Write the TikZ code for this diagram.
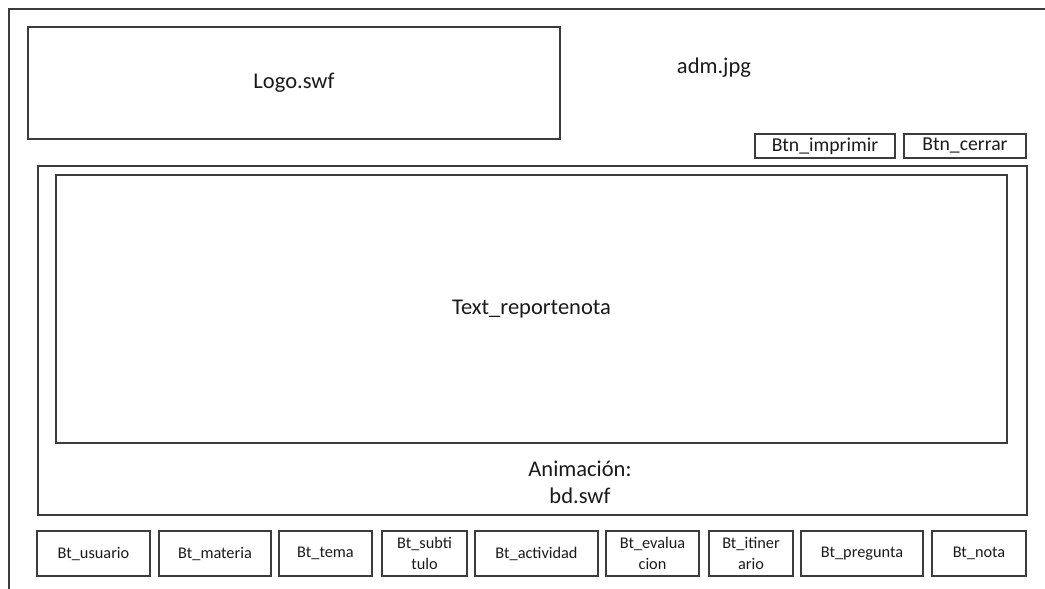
\documentclass[tikz,border=0pt]{standalone}
\usepackage{fontspec}
\setmainfont{Carlito}
\usepackage{xcolor,tikz}
\usetikzlibrary{positioning}
\definecolor{WireLine}{HTML}{3C3C3C}
\definecolor{WireText}{HTML}{1A1A1A}
\tikzset{x=1pt,y=-1pt,every node/.style={text=WireText,inner sep=0pt},
 area/.style={draw=WireLine,line width=1.2pt,rectangle},
 bigtxt/.style={font=\fontsize{22.5}{27}\selectfont,align=center},
 topbtn/.style={area,font=\fontsize{19.7}{23}\selectfont,minimum height=24pt},
 botbtn/.style={area,font=\fontsize{16.3}{21}\selectfont,align=center,
 minimum height=45pt}}

\begin{document}
\begin{tikzpicture}
\useasboundingbox (0,0) rectangle (1045,589);
\draw[WireLine,line width=1.2pt] (1045,9)--(9,9)--(9,589);
\node[area,bigtxt,minimum width=532pt,minimum height=112pt] (logo) at (294,83) {Logo.swf};
\node[bigtxt] (adm) at (714,68) {adm.jpg};
\node[topbtn,minimum width=140pt] (imprimir) at (825,146) {Btn\_imprimir};
\node[topbtn,minimum width=122pt] (cerrar) at (965,146) {Btn\_cerrar};
\node[area,minimum width=989pt,minimum height=349pt] (anim) at (532.5,340.5) {};
\node[area,bigtxt,minimum width=951pt,minimum height=268pt] (report) at (531.5,309) {Text\_reportenota};
\node[bigtxt] (animtxt) at (580,482) {Animación:\\bd.swf};
% botones inferiores
\node[botbtn,minimum width=113pt] (usuario) at (93.5,553.5) {Bt\_usuario};
\node[botbtn,minimum width=112pt] (materia) at (215,553.5) {Bt\_materia};
\node[botbtn,minimum width=93pt] (tema) at (325.5,553.5) {Bt\_tema};
\node[botbtn,minimum width=85pt] (subtitulo) at (424.5,553.5) {Bt\_subti\\tulo};
\node[botbtn,minimum width=123pt] (actividad) at (536.5,553.5) {Bt\_actividad};
\node[botbtn,minimum width=93pt] (evaluacion) at (652.5,553.5) {Bt\_evalua\\cion};
\node[botbtn,minimum width=84pt] (itinerario) at (751,553.5) {Bt\_itiner\\ario};
\node[botbtn,minimum width=122pt] (pregunta) at (862,553.5) {Bt\_pregunta};
\node[botbtn,minimum width=94pt] (nota) at (979,553.5) {Bt\_nota};
\end{tikzpicture}
\end{document}
